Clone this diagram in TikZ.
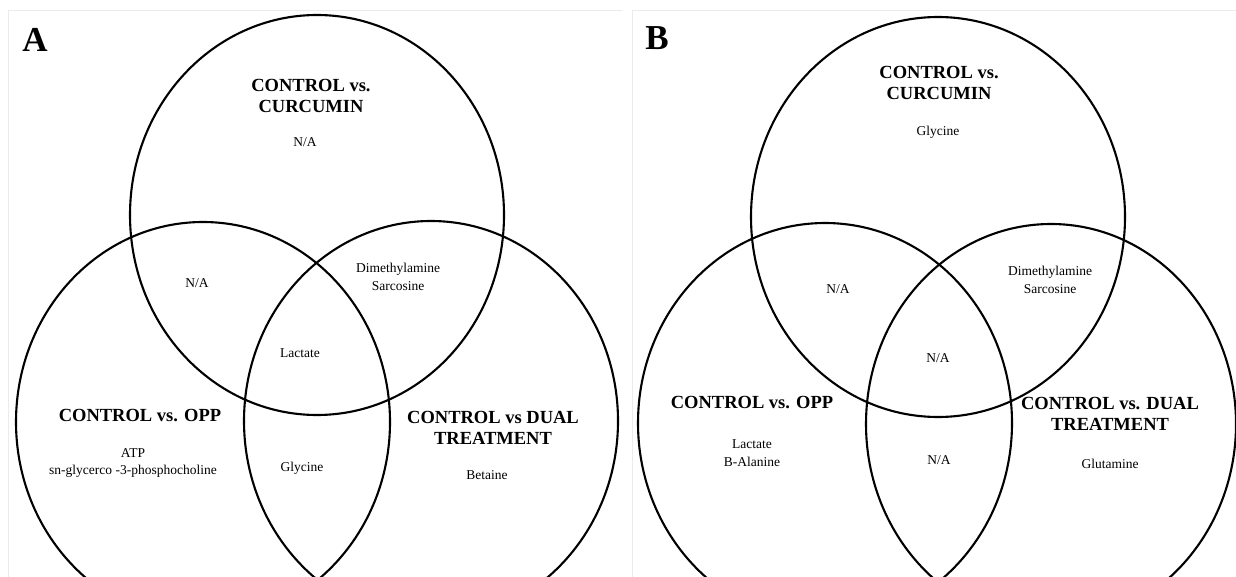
\documentclass[tikz,border=0pt]{standalone}
\usepackage{fontspec}
\setmainfont{Liberation Serif}
\usetikzlibrary{positioning}
\definecolor{PanelGray}{RGB}{235,235,235}
\tikzset{
  venn/.style={draw=black,line width=2.1pt},
  frame/.style={draw=PanelGray,line width=0.8pt},
  title/.style={font=\bfseries\fontsize{18.5}{21.5}\selectfont,align=center,inner sep=0pt},
  item/.style={font=\fontsize{13.5}{17.5}\selectfont,align=center,inner sep=0pt},
  panel/.style={font=\bfseries\fontsize{35}{35}\selectfont,inner sep=0pt}
}
\begin{document}
\begin{tikzpicture}[x=1pt,y=-1pt]
  \useasboundingbox (0,0) rectangle (1236,577);
  \clip (0,0) rectangle (1236,577);
  \fill[white] (0,0) rectangle (1236,577);
  % panel frames
  \draw[frame] (8,10) -- (622,10);
  \draw[frame] (8,10) -- (8,577);
  \draw[frame] (632,10) -- (1236,10);
  \draw[frame] (632,10) -- (632,577);
  % panel A
  \draw[venn] (317,215) ellipse [x radius=187,y radius=200];
  \draw[venn] (203,422) ellipse [x radius=187,y radius=200];
  \draw[venn] (431,421) ellipse [x radius=187,y radius=200];
  \node[panel] (lblA) at (35,40) {A};
  \node[title] (curA) at (311,96) {CONTROL vs.\\CURCUMIN};
  \node[item] (curOnlyA) at (305,142) {N/A};
  \node[item] (curOppA) at (197,283) {N/A};
  \node[item] (curDualA) at (398,277) {Dimethylamine\\Sarcosine};
  \node[item] (allA) at (300,353) {Lactate};
  \node[title] (oppA) at (140,416) {CONTROL vs. OPP};
  \node[item] (oppOnlyA) at (133,463) {ATP\\sn-glycerco -3-phosphocholine};
  \node[item] (oppDualA) at (302,468) {Glycine};
  \node[title] (dualA) at (493,428) {CONTROL vs DUAL\\TREATMENT};
  \node[item] (dualOnlyA) at (487,475) {Betaine};
  % panel B
  \draw[venn] (938,217) ellipse [x radius=187,y radius=200];
  \draw[venn] (825,423) ellipse [x radius=187,y radius=200];
  \draw[venn] (1051,424) ellipse [x radius=185,y radius=200];
  \node[panel] (lblB) at (657,38) {B};
  \node[title] (curB) at (939,83) {CONTROL vs.\\CURCUMIN};
  \node[item] (curOnlyB) at (938,132) {Glycine};
  \node[item] (curOppB) at (838,289) {N/A};
  \node[item] (curDualB) at (1050,280) {Dimethylamine\\Sarcosine};
  \node[item] (allB) at (938,358) {N/A};
  \node[title] (oppB) at (752,403) {CONTROL vs. OPP};
  \node[item] (oppOnlyB) at (752,453) {Lactate\\B-Alanine};
  \node[item] (oppDualB) at (939,460) {N/A};
  \node[title] (dualB) at (1110,414) {CONTROL vs. DUAL\\TREATMENT};
  \node[item] (dualOnlyB) at (1110,464) {Glutamine};
\end{tikzpicture}
\end{document}
